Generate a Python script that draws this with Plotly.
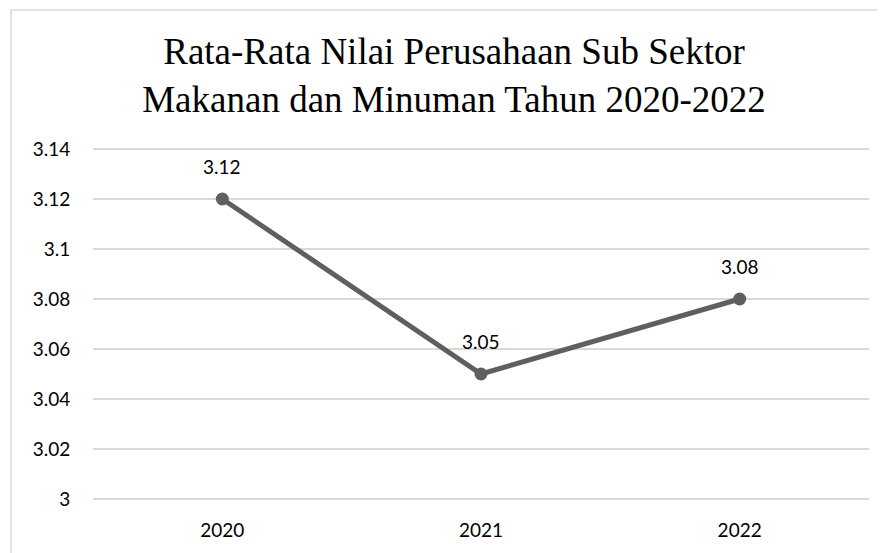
import plotly.graph_objects as go

years = ["2020", "2021", "2022"]
values = [3.12, 3.05, 3.08]
value_labels = ["3.12", "3.05", "3.08"]
y_ticks = [3.0, 3.02, 3.04, 3.06, 3.08, 3.10, 3.12, 3.14]
y_tick_labels = ["3", "3.02", "3.04", "3.06", "3.08", "3.1", "3.12", "3.14"]
title_text = "Rata-Rata Nilai Perusahaan Sub Sektor<br>Makanan dan Minuman Tahun 2020-2022"

x_pos = list(range(len(years)))

line_color = "#5f5f5f"
label_font = dict(family="Lato, Carlito, Calibri, sans-serif", size=19, color="#000000")

fig = go.Figure()
fig.add_trace(go.Scatter(
    x=x_pos, y=values, mode="lines+markers",
    line=dict(color=line_color, width=5),
    marker=dict(color=line_color, size=13),
    hoverinfo="skip", showlegend=False,
))

annotations = [
    dict(x=x, y=v, text=t, showarrow=False, yshift=33, font=label_font,
         xref="x", yref="y")
    for x, v, t in zip(x_pos, values, value_labels)
]

# page body has an 8px offset; layout numbers below compensate for it
fig.update_layout(
    width=885, height=553,
    margin=dict(l=85, r=24, t=136, b=57, autoexpand=False),
    paper_bgcolor="white", plot_bgcolor="white",
    title=dict(text=title_text, x=446 / 885, xanchor="center", xref="container",
               y=1 - 56 / 553, yanchor="middle",
               font=dict(family="Liberation Serif, Times New Roman, serif", size=37, color="#000000")),
    xaxis=dict(range=[-0.5, 2.5], tickvals=x_pos, ticktext=years,
               showgrid=False, showline=False, zeroline=False,
               tickfont=label_font, ticks="outside", ticklen=9, tickcolor="rgba(0,0,0,0)"),
    yaxis=dict(range=[2.998, 3.142], tickvals=y_ticks, ticktext=y_tick_labels,
               showgrid=True, gridcolor="#d9d9d9", gridwidth=1.5,
               showline=False, zeroline=False, tickfont=label_font,
               ticks="outside", ticklen=18, tickcolor="rgba(0,0,0,0)"),
    annotations=annotations,
    shapes=[dict(type="rect", xref="paper", yref="paper",
                 x0=(3 - 85) / 776, x1=1.2, y0=-0.3, y1=(496 - 2) / 360,
                 line=dict(color="#d9d9d9", width=1.5), fillcolor="rgba(0,0,0,0)",
                 layer="below")],
)

fig.write_html("out.html")
